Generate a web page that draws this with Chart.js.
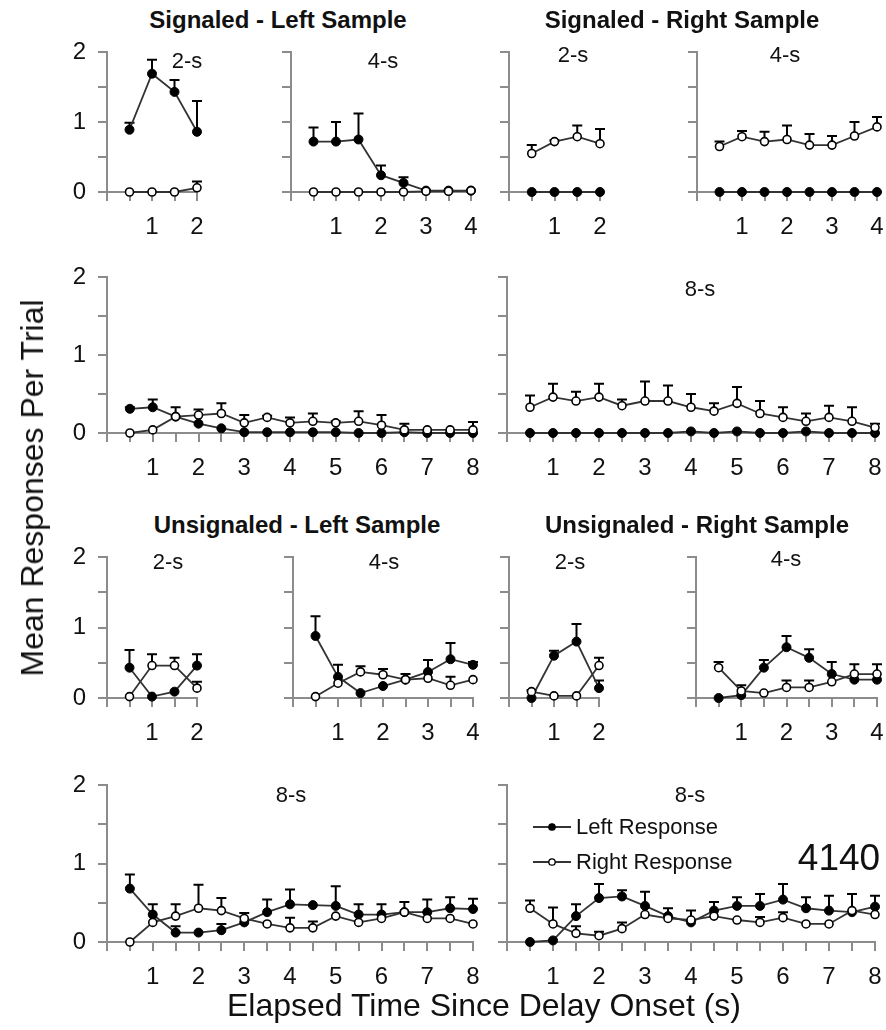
<!DOCTYPE html>
<html>
<head>
<meta charset="utf-8">
<title>Responses per trial by delay</title>
<script src="https://cdn.jsdelivr.net/npm/chart.js@4.4.1/dist/chart.umd.min.js"></script>
<style>
    body { margin: 0; background: #fff; }
    #page {
        position: relative;
        width: 886px;
        height: 1030px;
        overflow: hidden;
        font-family: 'Liberation Sans', Arial, sans-serif;
        color: #111;
    }
    #page canvas { position: absolute; }
    .txt {
        position: absolute;
        white-space: nowrap;
        line-height: 1;
        transform: translate(-50%, -50%);
    }
    .legend-row {
        position: absolute;
        display: flex;
        align-items: center;
        font-size: 22px;
        line-height: 1;
        white-space: nowrap;
    }
</style>
</head>
<body>
<div id="page"></div>
<script>
// Elapsed time bins (s) for each delay length
const t2 = [0.5, 1, 1.5, 2];
const t4 = [0.5, 1, 1.5, 2, 2.5, 3, 3.5, 4];
const t8 = [0.5, 1, 1.5, 2, 2.5, 3, 3.5, 4, 4.5, 5, 5.5, 6, 6.5, 7, 7.5, 8];

// Signaled - Left Sample
const sigLeft2Left     = [0.89, 1.69, 1.43, 0.86];
const sigLeft2LeftErr  = [0.10, 0.20, 0.17, 0.44];
const sigLeft2Right    = [0, 0, 0, 0.06];
const sigLeft2RightErr = [0, 0, 0, 0.09];

const sigLeft4Left     = [0.72, 0.72, 0.75, 0.24, 0.13, 0.02, 0.02, 0.02];
const sigLeft4LeftErr  = [0.20, 0.28, 0.37, 0.14, 0.08, 0, 0, 0];
const sigLeft4Right    = [0, 0, 0, 0, 0, 0.01, 0.01, 0.02];
const sigLeft4RightErr = [0, 0, 0, 0, 0, 0, 0, 0];

const sigLeft8Left     = [0.31, 0.33, 0.21, 0.12, 0.06, 0.01, 0.01, 0.01, 0.01, 0.01, 0, 0, 0.01, 0, 0, 0];
const sigLeft8LeftErr  = [0.02, 0.10, 0, 0, 0, 0, 0, 0, 0, 0, 0, 0, 0, 0, 0, 0];
const sigLeft8Right    = [0, 0.04, 0.21, 0.23, 0.25, 0.13, 0.20, 0.13, 0.15, 0.13, 0.15, 0.10, 0.04, 0.04, 0.04, 0.04];
const sigLeft8RightErr = [0, 0, 0.12, 0.07, 0.13, 0.10, 0.02, 0.07, 0.10, 0.02, 0.13, 0.13, 0.08, 0, 0, 0.10];

// Signaled - Right Sample
const sigRight2Left     = [0, 0, 0, 0];
const sigRight2LeftErr  = [0, 0, 0, 0];
const sigRight2Right    = [0.55, 0.72, 0.79, 0.69];
const sigRight2RightErr = [0.12, 0.02, 0.16, 0.21];

const sigRight4Left     = [0, 0, 0, 0, 0, 0, 0, 0];
const sigRight4LeftErr  = [0, 0, 0, 0, 0, 0, 0, 0];
const sigRight4Right    = [0.65, 0.79, 0.72, 0.75, 0.67, 0.67, 0.80, 0.93];
const sigRight4RightErr = [0.07, 0.08, 0.14, 0.20, 0.16, 0.13, 0.20, 0.14];

const sigRight8Left     = [0, 0, 0, 0, 0, 0, 0, 0.02, 0, 0.02, 0, 0, 0.02, 0, 0, 0];
const sigRight8LeftErr  = [0, 0, 0, 0, 0, 0, 0, 0, 0, 0, 0, 0, 0, 0, 0, 0];
const sigRight8Right    = [0.33, 0.46, 0.41, 0.46, 0.35, 0.41, 0.41, 0.33, 0.28, 0.38, 0.25, 0.20, 0.15, 0.20, 0.15, 0.07];
const sigRight8RightErr = [0.15, 0.17, 0.12, 0.17, 0.08, 0.25, 0.20, 0.17, 0.10, 0.21, 0.16, 0.13, 0.10, 0.15, 0.18, 0.05];

// Unsignaled - Left Sample
const unsLeft2Left     = [0.43, 0.02, 0.09, 0.46];
const unsLeft2LeftErr  = [0.25, 0, 0, 0.16];
const unsLeft2Right    = [0.02, 0.46, 0.46, 0.14];
const unsLeft2RightErr = [0, 0.16, 0.11, 0.09];

const unsLeft4Left     = [0.88, 0.30, 0.07, 0.17, 0.26, 0.37, 0.55, 0.47];
const unsLeft4LeftErr  = [0.28, 0.17, 0, 0, 0, 0.17, 0.23, 0.04];
const unsLeft4Right    = [0.02, 0.21, 0.37, 0.33, 0.26, 0.28, 0.18, 0.26];
const unsLeft4RightErr = [0, 0, 0.08, 0.08, 0.08, 0, 0.12, 0];

const unsLeft8Left     = [0.68, 0.35, 0.12, 0.12, 0.15, 0.25, 0.38, 0.48, 0.47, 0.46, 0.35, 0.35, 0.38, 0.38, 0.43, 0.42];
const unsLeft8LeftErr  = [0.18, 0.13, 0.08, 0, 0.08, 0, 0.16, 0.19, 0, 0.25, 0.13, 0.13, 0.13, 0.16, 0.14, 0.13];
const unsLeft8Right    = [0, 0.25, 0.33, 0.43, 0.40, 0.30, 0.23, 0.18, 0.18, 0.33, 0.25, 0.30, 0.38, 0.30, 0.30, 0.23];
const unsLeft8RightErr = [0, 0, 0.15, 0.30, 0.16, 0.07, 0, 0.13, 0.08, 0, 0, 0, 0, 0, 0, 0];

// Unsignaled - Right Sample
const unsRight2Left     = [0, 0.60, 0.80, 0.14];
const unsRight2LeftErr  = [0, 0.07, 0.25, 0.11];
const unsRight2Right    = [0.09, 0.03, 0.03, 0.46];
const unsRight2RightErr = [0.02, 0, 0, 0.11];

const unsRight4Left     = [0, 0.04, 0.43, 0.72, 0.57, 0.34, 0.26, 0.26];
const unsRight4LeftErr  = [0, 0, 0.11, 0.16, 0.12, 0.17, 0, 0];
const unsRight4Right    = [0.43, 0.10, 0.07, 0.15, 0.15, 0.23, 0.34, 0.34];
const unsRight4RightErr = [0.08, 0.08, 0, 0.10, 0.10, 0, 0.14, 0.14];

const unsRight8Left     = [0, 0.02, 0.33, 0.56, 0.58, 0.46, 0.33, 0.25, 0.40, 0.46, 0.46, 0.54, 0.43, 0.40, 0.38, 0.45];
const unsRight8LeftErr  = [0, 0, 0.15, 0.18, 0.08, 0.18, 0.10, 0.15, 0.11, 0.11, 0.15, 0.20, 0.14, 0.19, 0, 0.14];
const unsRight8Right    = [0.43, 0.23, 0.11, 0.08, 0.17, 0.35, 0.30, 0.28, 0.33, 0.28, 0.25, 0.31, 0.23, 0.23, 0.40, 0.35];
const unsRight8RightErr = [0.10, 0.21, 0.09, 0.05, 0.08, 0, 0, 0, 0, 0, 0.07, 0.07, 0, 0, 0.21, 0];

const yTicks = [0, 0.5, 1, 1.5, 2];
const seriesNames = ['Left Response', 'Right Response'];

// Panels: data + where each plot area sits on the page (x0 = time 0, xEnd = last bin, yTop = 2, yBot = 0)
const panels = [
    { times: t2, left: sigLeft2Left, leftErr: sigLeft2LeftErr, right: sigLeft2Right, rightErr: sigLeft2RightErr, yLabels: true,  x0: 107, xEnd: 197, yTop: 52,  yBot: 192 },
    { times: t4, left: sigLeft4Left, leftErr: sigLeft4LeftErr, right: sigLeft4Right, rightErr: sigLeft4RightErr, yLabels: false, x0: 291, xEnd: 471, yTop: 52,  yBot: 192 },
    { times: t2, left: sigRight2Left, leftErr: sigRight2LeftErr, right: sigRight2Right, rightErr: sigRight2RightErr, yLabels: false, x0: 509, xEnd: 600, yTop: 52,  yBot: 192 },
    { times: t4, left: sigRight4Left, leftErr: sigRight4LeftErr, right: sigRight4Right, rightErr: sigRight4RightErr, yLabels: false, x0: 697, xEnd: 877, yTop: 52,  yBot: 192 },
    { times: t8, left: sigLeft8Left, leftErr: sigLeft8LeftErr, right: sigLeft8Right, rightErr: sigLeft8RightErr, yLabels: true,  x0: 107, xEnd: 473, yTop: 277, yBot: 433 },
    { times: t8, left: sigRight8Left, leftErr: sigRight8LeftErr, right: sigRight8Right, rightErr: sigRight8RightErr, yLabels: false, x0: 507, xEnd: 875, yTop: 277, yBot: 433 },
    { times: t2, left: unsLeft2Left, leftErr: unsLeft2LeftErr, right: unsLeft2Right, rightErr: unsLeft2RightErr, yLabels: true,  x0: 107, xEnd: 197, yTop: 557, yBot: 698 },
    { times: t4, left: unsLeft4Left, leftErr: unsLeft4LeftErr, right: unsLeft4Right, rightErr: unsLeft4RightErr, yLabels: false, x0: 293, xEnd: 473, yTop: 557, yBot: 698 },
    { times: t2, left: unsRight2Left, leftErr: unsRight2LeftErr, right: unsRight2Right, rightErr: unsRight2RightErr, yLabels: false, x0: 509, xEnd: 599, yTop: 557, yBot: 698 },
    { times: t4, left: unsRight4Left, leftErr: unsRight4LeftErr, right: unsRight4Right, rightErr: unsRight4RightErr, yLabels: false, x0: 696, xEnd: 877, yTop: 557, yBot: 698 },
    { times: t8, left: unsLeft8Left, leftErr: unsLeft8LeftErr, right: unsLeft8Right, rightErr: unsLeft8RightErr, yLabels: true,  x0: 107, xEnd: 473, yTop: 785, yBot: 942 },
    { times: t8, left: unsRight8Left, leftErr: unsRight8LeftErr, right: unsRight8Right, rightErr: unsRight8RightErr, yLabels: false, x0: 507, xEnd: 875, yTop: 785, yBot: 942 }
];

// Headings, delay labels and axis titles (centre positions)
const texts = [
    { text: 'Signaled - Left Sample',    x: 278, y: 20,  size: 24, bold: true },
    { text: 'Signaled - Right Sample',   x: 682, y: 20,  size: 24, bold: true },
    { text: 'Unsignaled - Left Sample',  x: 297, y: 525, size: 24, bold: true },
    { text: 'Unsignaled - Right Sample', x: 697, y: 525, size: 24, bold: true },
    { text: '2-s', x: 187, y: 61,  size: 22 },
    { text: '4-s', x: 383, y: 61,  size: 22 },
    { text: '2-s', x: 573, y: 55,  size: 22 },
    { text: '4-s', x: 785, y: 55,  size: 22 },
    { text: '8-s', x: 700, y: 289, size: 22 },
    { text: '2-s', x: 168, y: 562, size: 22 },
    { text: '4-s', x: 384, y: 562, size: 22 },
    { text: '2-s', x: 570, y: 562, size: 22 },
    { text: '4-s', x: 786, y: 559, size: 22 },
    { text: '8-s', x: 291, y: 795, size: 22 },
    { text: '8-s', x: 690, y: 795, size: 22 },
    { text: '4140', x: 839, y: 857, size: 37 },
    { text: 'Elapsed Time Since Delay Onset (s)', x: 484, y: 1005, size: 32 },
    { text: 'Mean Responses Per Trial', x: 32, y: 488, size: 32, rotate: -90 }
];

const AXIS_GRAY = '#8c8c8c';
const LINE_GRAY = '#333333';
const PAD_L = 70, PAD_T = 14, PAD_R = 14, PAD_B = 56;

const page = document.getElementById('page');

// upward-only error bars with a small cap
const errorBarPlugin = {
    id: 'errorBars',
    beforeDatasetsDraw(chart) {
        const ctx = chart.ctx;
        const yScale = chart.scales.y;
        ctx.save();
        ctx.strokeStyle = '#000';
        ctx.lineWidth = 2;
        chart.data.datasets.forEach((ds, i) => {
            const meta = chart.getDatasetMeta(i);
            meta.data.forEach((pt, j) => {
                const e = ds.err[j];
                if (!e) return;
                const top = yScale.getPixelForValue(ds.data[j].y + e);
                ctx.beginPath();
                ctx.moveTo(pt.x, pt.y);
                ctx.lineTo(pt.x, top);
                ctx.moveTo(pt.x - 5, top);
                ctx.lineTo(pt.x + 5, top);
                ctx.stroke();
            });
        });
        ctx.restore();
    }
};

function toPoints(times, values) {
    return times.map((t, i) => ({ x: t, y: values[i] }));
}

function makePanel(p) {
    const w = p.xEnd - p.x0 + PAD_L + PAD_R;
    const h = p.yBot - p.yTop + PAD_T + PAD_B;
    const canvas = document.createElement('canvas');
    canvas.width = w;
    canvas.height = h;
    canvas.style.width = w + 'px';
    canvas.style.height = h + 'px';
    canvas.style.left = (p.x0 - PAD_L) + 'px';
    canvas.style.top = (p.yTop - PAD_T) + 'px';
    page.appendChild(canvas);

    const xMax = p.times[p.times.length - 1];
    const tickFont = { family: "'Liberation Sans', Arial, sans-serif", size: 24 };

    new Chart(canvas, {
        type: 'line',
        data: {
            datasets: [
                {
                    label: seriesNames[1],
                    data: toPoints(p.times, p.right),
                    err: p.rightErr,
                    borderColor: LINE_GRAY,
                    borderWidth: 1.8,
                    pointRadius: 4,
                    pointBorderWidth: 1.6,
                    pointBackgroundColor: '#fff',
                    pointBorderColor: '#000',
                    clip: false
                },
                {
                    label: seriesNames[0],
                    data: toPoints(p.times, p.left),
                    err: p.leftErr,
                    borderColor: LINE_GRAY,
                    borderWidth: 1.8,
                    pointRadius: 4.5,
                    pointBorderWidth: 1,
                    pointBackgroundColor: '#000',
                    pointBorderColor: '#000',
                    clip: false
                }
            ]
        },
        options: {
            responsive: false,
            animation: false,
            events: [],
            layout: { padding: { left: 0, top: PAD_T, right: PAD_R, bottom: 0 } },
            plugins: { legend: { display: false }, tooltip: { enabled: false } },
            scales: {
                x: {
                    type: 'linear',
                    min: 0,
                    max: xMax,
                    afterFit: (scale) => { scale.height = PAD_B; scale.paddingLeft = 0; scale.paddingRight = 0; },
                    border: { color: AXIS_GRAY, width: 2 },
                    grid: { drawOnChartArea: false, drawTicks: true, tickLength: 9, color: AXIS_GRAY, lineWidth: 2 },
                    ticks: {
                        stepSize: 0.5,
                        autoSkip: false,
                        maxRotation: 0,
                        padding: 12,
                        color: '#111',
                        font: tickFont,
                        callback: (v) => (Number.isInteger(v) && v > 0 ? String(v) : '')
                    }
                },
                y: {
                    min: 0,
                    max: 2,
                    afterFit: (scale) => { scale.width = PAD_L; scale.paddingTop = 0; scale.paddingBottom = 0; },
                    afterBuildTicks: (scale) => { scale.ticks = yTicks.map(v => ({ value: v })); },
                    border: { color: AXIS_GRAY, width: 2 },
                    grid: { drawOnChartArea: false, drawTicks: true, tickLength: 9, color: AXIS_GRAY, lineWidth: 2 },
                    ticks: {
                        padding: 12,
                        color: '#111',
                        font: tickFont,
                        callback: (v) => (p.yLabels && Number.isInteger(v) ? String(v) : '')
                    }
                }
            }
        },
        plugins: [errorBarPlugin]
    });
}

panels.forEach(makePanel);

texts.forEach(t => {
    const el = document.createElement('div');
    el.className = 'txt';
    el.textContent = t.text;
    el.style.left = t.x + 'px';
    el.style.top = t.y + 'px';
    el.style.fontSize = t.size + 'px';
    if (t.bold) el.style.fontWeight = 'bold';
    if (t.rotate) el.style.transform = 'translate(-50%, -50%) rotate(' + t.rotate + 'deg)';
    page.appendChild(el);
});

// legend in the bottom-right panel
const legendItems = [
    { name: seriesNames[0], fill: '#000', y: 827 },
    { name: seriesNames[1], fill: '#fff', y: 862 }
];
legendItems.forEach(item => {
    const row = document.createElement('div');
    row.className = 'legend-row';
    row.style.left = '533px';
    row.style.top = (item.y - 11) + 'px';
    row.style.height = '22px';
    row.innerHTML =
        '<svg width="42" height="12" style="margin-right:1px">' +
        '<line x1="0" y1="6" x2="38" y2="6" stroke="' + LINE_GRAY + '" stroke-width="2"/>' +
        '<circle cx="19" cy="6" r="3.2" fill="' + item.fill + '" stroke="#000" stroke-width="1.3"/>' +
        '</svg><span>' + item.name + '</span>';
    page.appendChild(row);
});
</script>
</body>
</html>
